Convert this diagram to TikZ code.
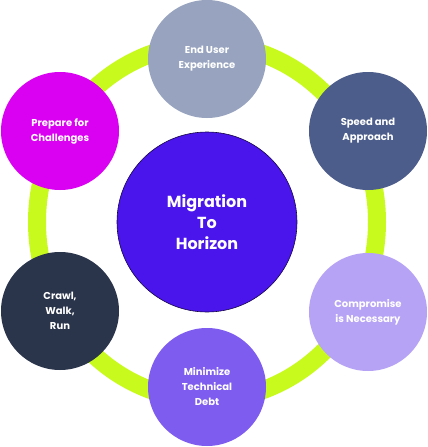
\documentclass[tikz,border=0pt]{standalone}
\usepackage{fontspec}
\setmainfont{Poppins}
\usetikzlibrary{positioning}
\definecolor{ringgreen}{HTML}{C8FA1E}
\definecolor{hubviolet}{HTML}{4A14EC}
\definecolor{greyblue}{HTML}{98A4BF}
\definecolor{slateblue}{HTML}{4C5D8B}
\definecolor{lilac}{HTML}{B7A3F5}
\definecolor{midviolet}{HTML}{7E5CEF}
\definecolor{darknavy}{HTML}{2A344B}
\definecolor{magenta}{HTML}{DA00F2}
\tikzset{
topic/.style={ % Sets the properties for each outer circle
circle,
minimum size=118pt,
inner sep=0pt,
align=center,
text=white,
font=\fontsize{10}{15}\selectfont\bfseries},
hub/.style={ % Central circle
circle,
minimum size=180pt,
inner sep=0pt,
draw=black!70!hubviolet,
line width=0.6pt,
fill=hubviolet,
align=center,
text=white,
font=\fontsize{16}{21}\selectfont\bfseries}}

\begin{document}
\begin{tikzpicture}[x=1pt,y=-1pt]
	\useasboundingbox (0,0) rectangle (428,447);
	\draw[ringgreen, line width=18pt] (207,222) ellipse [x radius=170, y radius=178];
	\node[hub] (mig) at (207,222) {Migration\\To\\Horizon};
	\node[topic, fill=greyblue] (user) at (207,59) {End User\\Experience};
	\node[topic, fill=slateblue] (speed) at (368,131) {Speed and\\Approach};
	\node[topic, fill=lilac] (comp) at (368,312) {Compromise\\is Necessary};
	\node[topic, fill=midviolet] (debt) at (207,387) {Minimize\\Technical\\Debt};
	\node[topic, fill=darknavy] (crawl) at (60,311) {Crawl,\\Walk,\\Run};
	\node[topic, fill=magenta] (prep) at (60,131) {Prepare for\\Challenges};
\end{tikzpicture}
\end{document}
